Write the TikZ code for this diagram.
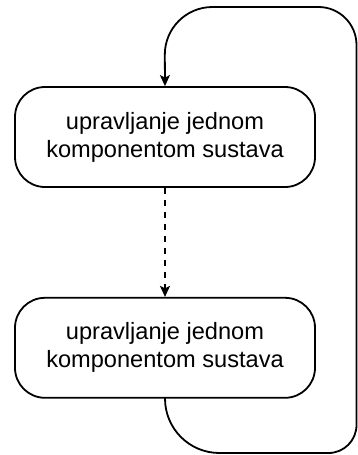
\documentclass[tikz,border=0pt]{standalone}
\usepackage{fontspec}
\setmainfont{Liberation Sans}
\usepackage{tikz}
\usetikzlibrary{arrows.meta,positioning}

\begin{document}
\begin{tikzpicture}[
    x=1pt,y=1pt,
    task/.style={draw=black,line width=1.8pt,rounded corners=30pt,
                 minimum width=300pt,minimum height=100pt,align=center,
                 font=\fontsize{23.6}{28}\selectfont},
    flow/.style={black,line width=1.8pt,
                 -{Stealth[length=11pt,width=10pt,inset=2.5pt]}}
  ]
  \useasboundingbox (0,0) rectangle (358,-455);
  %% The two component boxes
  \node[task] (upper) at (165,-137) {upravljanje jednom\\komponentom sustava};
  \node[task,below=109pt of upper] (lower) {upravljanje jednom\\komponentom sustava};
  %% Corners of the return loop
  \coordinate (loopbl) at (164.5,-453);
  \coordinate (loopbr) at (356.5,-453);
  \coordinate (looptr) at (356.5,-7);
  \coordinate (looptl) at (164.5,-7);
  %% Dashed step between the boxes
  \draw[flow,dash pattern=on 6pt off 6pt] (upper) -- (lower);
  %% Return path back to the top
  \draw[flow] (lower.south)
    [rounded corners=55pt] -- (loopbl)
    [rounded corners=28pt] -- (loopbr)
    [rounded corners=38pt] -- (looptr)
    [rounded corners=48pt] -- (looptl) -- (upper.north);
\end{tikzpicture}
\end{document}
